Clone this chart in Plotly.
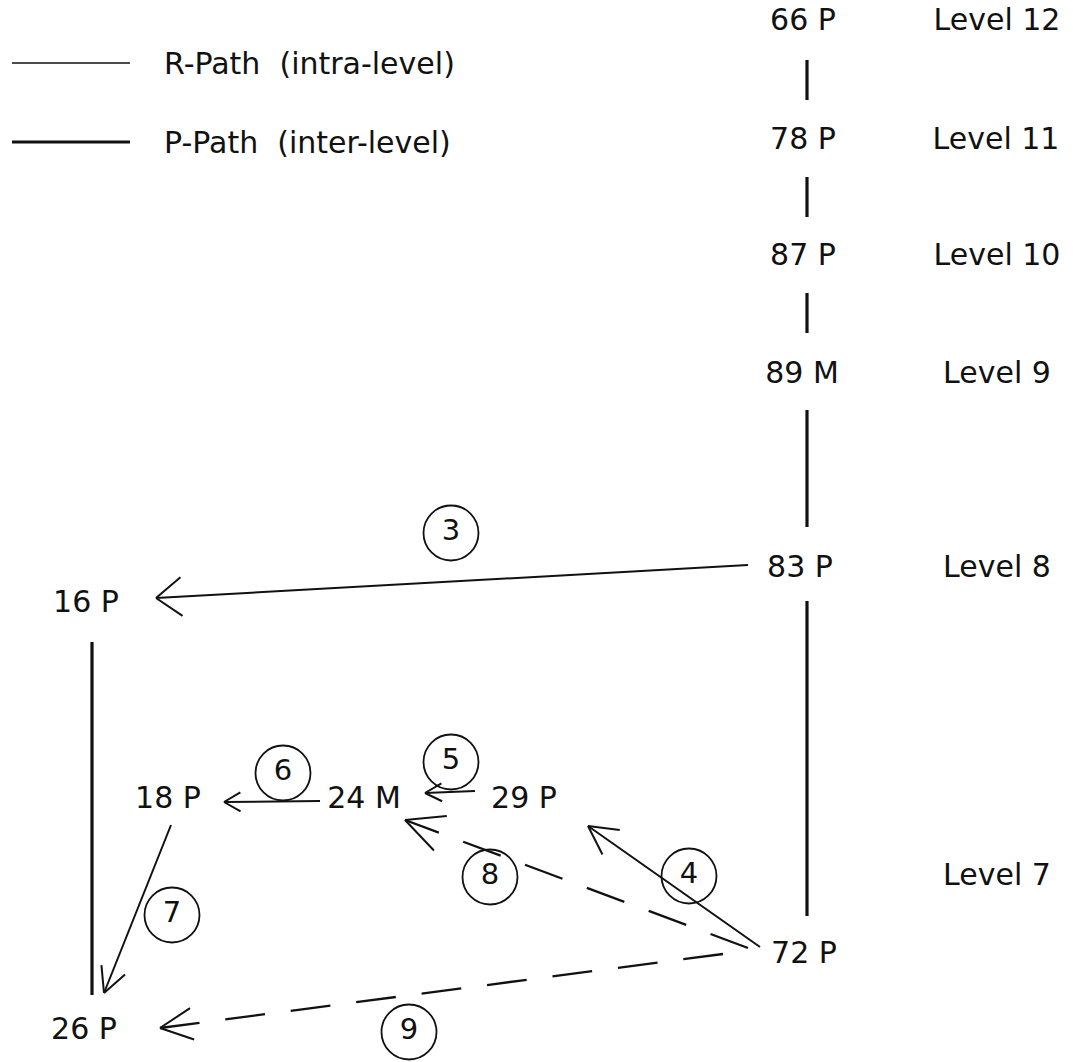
import numpy as np
import plotly.graph_objects as go

# ---------------- data ----------------
node_labels = ["66 P", "78 P", "87 P", "89 M", "83 P", "72 P",
               "16 P", "18 P", "24 M", "29 P", "26 P"]
node_x = [803, 803, 803, 802, 800, 804, 86, 168, 364, 524, 84]
node_y = [22, 141, 257, 375, 569, 955, 604, 800, 800, 800, 1031]

level_labels = ["Level 12", "Level 11", "Level 10", "Level 9", "Level 8", "Level 7"]
level_x = [997, 996, 997, 997, 997, 997]
level_y = [22, 141, 257, 375, 569, 877]

# P-Path (inter-level) connections: x, y start, y end
p_path_x = [807, 807, 807, 807, 807, 92]
p_path_y0 = [60, 177, 293, 410, 601, 642]
p_path_y1 = [100, 217, 333, 527, 916, 995]

# numbered R-Path arrows: start -> tip
arrow_ids = ["3", "4", "5", "6", "7", "8", "9"]
arrow_x0 = [748, 760, 475, 320, 171, 748, 723]
arrow_y0 = [565, 947, 791, 801, 825, 948, 954]
arrow_x1 = [156, 588, 425, 224, 104, 405, 160]
arrow_y1 = [598, 826, 793, 802, 993, 820, 1028]
arrow_dashed = [False, False, False, False, False, True, True]

# circled step numbers
circle_x = [451, 689, 451, 283, 172, 490, 409]
circle_y = [533, 876, 762, 773, 915, 877, 1032]

legend_labels = ["R-Path  (intra-level)", "P-Path  (inter-level)"]

# ---------------- style ----------------
W, H = 1073, 1062
INK = "#111111"
FONT = "DejaVu Sans"
FS = 30
head_len = [32, 32, 19, 19, 28, 42, 36]
head_ang = [37, 28, 28, 30, 27, 26, 26]
legend_y = [63, 142]
legend_w = [1.6, 3.2]

fig = go.Figure()

# P-path vertical lines
px, py = [], []
for x, a, b in zip(p_path_x, p_path_y0, p_path_y1):
    px += [x, x, None]
    py += [a, b, None]
fig.add_trace(go.Scatter(x=px, y=py, mode="lines",
                         line=dict(color=INK, width=3.2), hoverinfo="skip"))

# arrows
solid_x, solid_y, dash_x, dash_y, barb_x, barb_y = [], [], [], [], [], []
for i in range(len(arrow_ids)):
    p0 = np.array([arrow_x0[i], arrow_y0[i]], float)
    p1 = np.array([arrow_x1[i], arrow_y1[i]], float)
    if arrow_dashed[i]:
        dash_x += [p0[0], p1[0], None]
        dash_y += [p0[1], p1[1], None]
    else:
        solid_x += [p0[0], p1[0], None]
        solid_y += [p0[1], p1[1], None]
    u = (p0 - p1) / np.linalg.norm(p0 - p1)
    for s in (1, -1):
        t = np.radians(head_ang[i]) * s
        r = np.array([u[0] * np.cos(t) - u[1] * np.sin(t),
                      u[0] * np.sin(t) + u[1] * np.cos(t)])
        e = p1 + head_len[i] * r
        barb_x += [p1[0], e[0], None]
        barb_y += [p1[1], e[1], None]

fig.add_trace(go.Scatter(x=solid_x, y=solid_y, mode="lines",
                         line=dict(color=INK, width=2.0), hoverinfo="skip"))
fig.add_trace(go.Scatter(x=dash_x, y=dash_y, mode="lines",
                         line=dict(color=INK, width=2.3, dash="40px,26px"),
                         hoverinfo="skip"))
fig.add_trace(go.Scatter(x=barb_x, y=barb_y, mode="lines",
                         line=dict(color=INK, width=2.0), hoverinfo="skip"))

# circles with numbers
fig.add_trace(go.Scatter(x=circle_x, y=circle_y, mode="markers+text",
                         text=arrow_ids, textposition="middle center",
                         textfont=dict(family=FONT, size=29, color=INK),
                         marker=dict(symbol="circle-open", size=55,
                                     color=INK, line=dict(width=1.8, color=INK)),
                         hoverinfo="skip"))

# node labels
fig.add_trace(go.Scatter(x=node_x, y=node_y, mode="text", text=node_labels,
                         textposition="middle center",
                         textfont=dict(family=FONT, size=FS, color=INK),
                         hoverinfo="skip"))
# level labels
fig.add_trace(go.Scatter(x=level_x, y=level_y, mode="text", text=level_labels,
                         textposition="middle center",
                         textfont=dict(family=FONT, size=FS, color=INK),
                         hoverinfo="skip"))

# legend (drawn)
for lab, ly, lw in zip(legend_labels, legend_y, legend_w):
    fig.add_trace(go.Scatter(x=[12, 130], y=[ly, ly], mode="lines",
                             line=dict(color=INK, width=lw), hoverinfo="skip"))
    fig.add_annotation(x=162, y=ly, text=lab, showarrow=False, xanchor="left",
                       yanchor="middle", font=dict(family=FONT, size=FS, color=INK))

fig.update_layout(width=W, height=H, margin=dict(l=0, r=0, t=0, b=0),
                  showlegend=False, paper_bgcolor="white", plot_bgcolor="white",
                  xaxis=dict(range=[0, W], visible=False, fixedrange=True),
                  yaxis=dict(range=[H, 0], visible=False, fixedrange=True))

fig.write_html("out.html", config={"displayModeBar": False},
               post_script="document.body.style.margin='0';document.body.style.overflow='hidden';")
